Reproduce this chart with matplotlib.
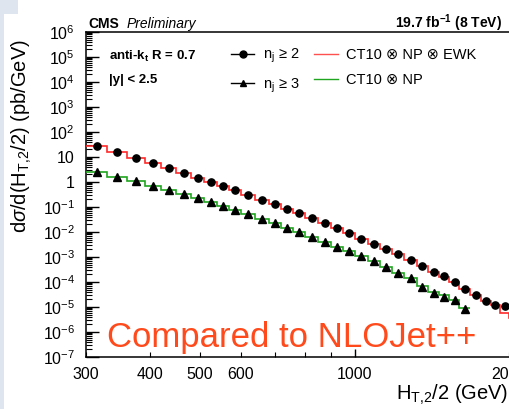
import numpy as np
import matplotlib
matplotlib.use('Agg')
import matplotlib.pyplot as plt
import matplotlib.patches as mpatches
from matplotlib.lines import Line2D
from matplotlib.ticker import LogLocator, NullFormatter

plt.rcParams['font.family'] = ['Liberation Sans', 'DejaVu Sans']
plt.rcParams['mathtext.fontset'] = 'custom'
plt.rcParams['mathtext.rm'] = 'Liberation Sans'
plt.rcParams['mathtext.it'] = 'Liberation Sans:italic'
plt.rcParams['mathtext.bf'] = 'Liberation Sans:bold'

# HT,2/2 bin edges (GeV)
bin_edges = [300, 330, 360, 390, 420, 450, 480, 510, 540, 570, 600,
             640, 680, 720, 760, 800, 850, 900, 950, 1000,
             1060, 1120, 1180, 1250, 1320, 1390, 1460, 1530, 1600,
             1680, 1760, 1840, 1920, 2000, 2080]

# data, n_j >= 2 (pb/GeV)
data_nj2 = [28.3, 15.8, 9.1, 5.6, 3.5, 2.29, 1.49, 0.97, 0.67, 0.466,
            0.31, 0.19, 0.128, 0.083, 0.056,
            0.0353, 0.0229, 0.0149, 0.00887,
            0.0054, 0.0034, 0.00215,
            1.36e-3, 7.6e-4, 4.2e-4, 2.5e-4, 1.74e-4, 9.9e-5,
            5.1e-5, 3.1e-5, 1.79e-5, 1.17e-5, 1.10e-5]

# data, n_j >= 3 (pb/GeV)
data_nj3 = [2.5, 1.63, 1.1, 0.71, 0.48, 0.34, 0.223, 0.154, 0.11, 0.076,
            0.052, 0.033, 0.0223, 0.0149, 0.010,
            0.0061, 0.0041, 0.0026, 0.00169,
            0.00107, 6.7e-4, 4.1e-4,
            2.35e-4, 1.49e-4, 6.5e-5, 3.5e-5, 2.6e-5, 1.85e-5,
            8.2e-6]

# NLO theory: CT10 x NP x EWK (n_j >= 2), CT10 x NP (n_j >= 3)
theory_nj2 = [28.3, 15.8, 9.1, 5.6, 3.5, 2.29, 1.49, 0.97, 0.67, 0.466,
              0.31, 0.19, 0.128, 0.083, 0.056,
              0.0353, 0.0229, 0.0149, 0.00887,
              0.0054, 0.0034, 0.00215,
              1.36e-3, 7.6e-4, 4.2e-4, 2.5e-4, 1.65e-4, 9.9e-5,
              5.1e-5, 3.1e-5, 1.79e-5, 1.15e-5, 5.6e-6, 3.6e-6]
theory_nj3 = [2.5, 1.63, 1.1, 0.71, 0.48, 0.34, 0.223, 0.154, 0.11, 0.076,
              0.052, 0.033, 0.0223, 0.0149, 0.010,
              0.0061, 0.0041, 0.0026, 0.00169,
              0.00107, 6.7e-4, 4.1e-4,
              2.35e-4, 1.49e-4, 6.8e-5, 4.1e-5, 2.9e-5, 1.9e-5,
              8.8e-6]

edges = np.array(bin_edges, dtype=float)
centers = 0.5 * (edges[:-1] + edges[1:])

fig = plt.figure(figsize=(5.09, 4.09), dpi=100)
W, H = 509.0, 409.0

# slide background peeking in on the left / top-left
fig.patches.append(mpatches.Rectangle((0, 0), 4 / W, 1, transform=fig.transFigure,
                                      facecolor='#dfe5ef', edgecolor='none', zorder=0))
fig.patches.append(mpatches.Rectangle((0, 1 - 14 / H), 18 / W, 14 / H, transform=fig.transFigure,
                                      facecolor='#dfe5ef', edgecolor='none', zorder=0))

# axes run past the right edge of the (cropped) picture
ax = fig.add_axes([86 / W, 52 / H, 473 / W, 325 / H])
ax.set_xscale('log')
ax.set_yscale('log')
ax.set_xlim(300, 2500)
ax.set_ylim(1e-7, 1e6)

n2 = len(data_nj2)
n3 = len(data_nj3)

# theory step lines
ax.stairs(theory_nj2, edges[:len(theory_nj2) + 1], baseline=None,
          color='#ff2a2a', lw=1.2, zorder=3)
ax.stairs(theory_nj3, edges[:len(theory_nj3) + 1], baseline=None,
          color='#1fa51f', lw=1.2, zorder=3)

# data points
ax.plot(centers[:n2], data_nj2, 'o', color='black', ms=5.2, zorder=4)
ax.plot(centers[:n3], data_nj3, '^', color='black', ms=5.2, zorder=4)

# ticks, ROOT style
for s in ax.spines.values():
    s.set_linewidth(1.1)
ax.yaxis.set_major_locator(LogLocator(base=10, numticks=20))
ax.yaxis.set_minor_locator(LogLocator(base=10, subs=np.arange(2, 10), numticks=20))
ax.yaxis.set_minor_formatter(NullFormatter())
ylabs = []
for e in range(-7, 7):
    if e == 0:
        ylabs.append('1')
    elif e == 1:
        ylabs.append('10')
    else:
        ylabs.append(r'$10^{%d}$' % e)
ax.set_yticks([10.0 ** e for e in range(-7, 7)], ylabs)
ax.tick_params(axis='y', which='major', direction='in', length=9, width=1, labelsize=11.5, pad=8)
ax.tick_params(axis='y', which='minor', direction='in', length=4.5, width=0.8)

ax.set_xticks([1000], ['1000'])
ax.set_xticks([300, 400, 500, 600, 700, 800, 900, 2000],
              ['300', '400', '500', '600', '', '', '', '2000'], minor=True)
ax.tick_params(axis='x', which='major', direction='in', length=6, width=1, labelsize=11.5, pad=7)
ax.tick_params(axis='x', which='minor', direction='in', length=3.6, width=0.8, labelsize=11.5, pad=7)

# axis titles
fig.text(22 / W, 1 - 136 / H, r'd$\sigma$/d(H$_{\mathrm{T{,}2}}$/2) (pb/GeV)',
         rotation=90, ha='center', va='center', fontsize=14.5)
fig.text(508 / W, 1 - 400 / H, r'H$_{\mathrm{T{,}2}}$/2 (GeV)',
         ha='right', va='baseline', fontsize=14.5)

# header
fig.text(88 / W, 1 - 28 / H, 'CMS', fontweight='bold', fontsize=10, va='baseline')
fig.text(127 / W, 1 - 28 / H, 'Preliminary', style='italic', fontsize=10, va='baseline')
fig.text(502 / W, 1 - 28 / H, r'19.7 fb$^{\mathbf{-1}}$ (8 TeV)', fontweight='bold',
         fontsize=10, ha='right', va='baseline')

# labels inside the frame
fig.text(109 / W, 1 - 60 / H, r'anti-k$_{\mathbf{t}}$ R = 0.7', fontweight='bold',
         fontsize=9.5, va='baseline')
fig.text(109 / W, 1 - 83 / H, '|y| < 2.5', fontweight='bold', fontsize=9.5, va='baseline')

handles = [
    Line2D([], [], color='black', marker='o', ms=5, lw=1),
    Line2D([], [], color='black', marker='^', ms=5, lw=1),
    Line2D([], [], color='#ff5050', lw=1),
    Line2D([], [], color='#1fa51f', lw=1),
]
labels = [r'n$_{\mathrm{j}}$ ≥ 2', r'n$_{\mathrm{j}}$ ≥ 3',
          'CT10 ⊗ NP ⊗ EWK', 'CT10 ⊗ NP']
ax.legend(handles, labels, ncol=2, frameon=False, fontsize=10.5,
          loc='upper left', bbox_to_anchor=(231 / W, 1 - 47 / H),
          bbox_transform=fig.transFigure, borderaxespad=0, borderpad=0,
          handlelength=1.6, handletextpad=0.6, columnspacing=1.0, labelspacing=0.75)

fig.text(107 / W, 1 - 347 / H, 'Compared to NLOJet++', color='#ff4a1c',
         fontsize=25, va='baseline')

fig.savefig('out.png', dpi=100)
